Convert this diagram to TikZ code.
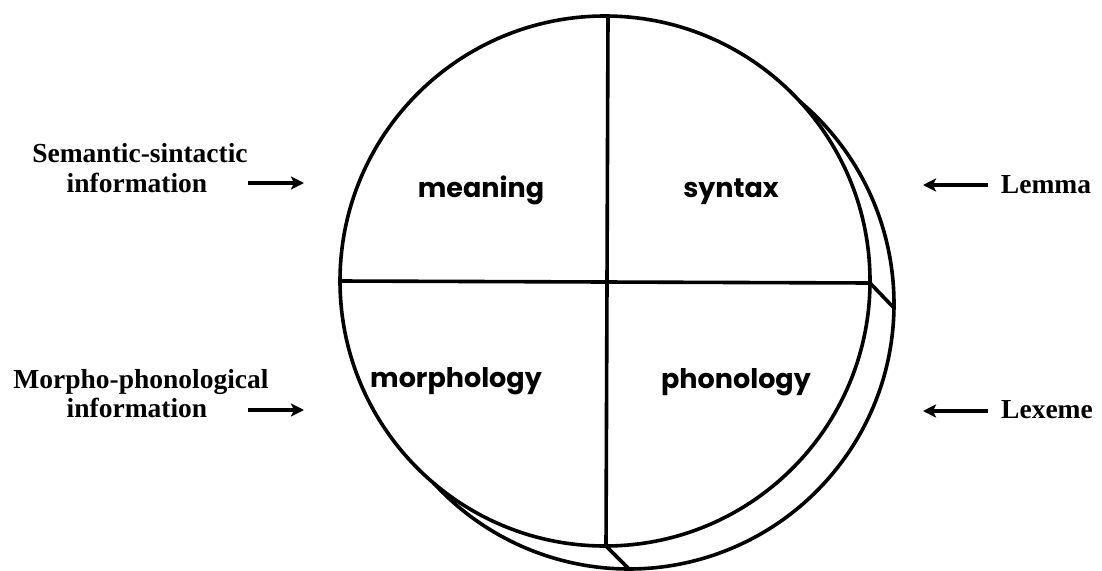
\documentclass[tikz,border=0pt]{standalone}
\usepackage{fontspec}
\setmainfont{Liberation Serif}
\newfontfamily\fieldfont{Poppins}
\usepackage{tikz}
\usetikzlibrary{positioning, arrows.meta}

\begin{document}
\begin{tikzpicture}[
    x=1pt, y=-1pt,
    >={Stealth[length=13pt, width=13pt, inset=3pt]},
    rim/.style={line width=3.6pt, line cap=round},
    feed/.style={->, line width=3.4pt},
    field/.style={anchor=base, font=\fieldfont\bfseries\fontsize{27}{32}\selectfont},
    source/.style={anchor=base, font=\bfseries\fontsize{27.5}{32}\selectfont}
]
\useasboundingbox (0,0) rectangle (1102,570);

% Main circle and the shifted rim
\coordinate (c) at (605,281);
\coordinate (c2) at (629,304);
\draw[rim] (c) circle (265);
\draw[rim] (c2) ++(-49.8:265) arc (-49.8:137.4:265);

% Quadrant dividers
\coordinate (top) at (608,16);
\coordinate (bot) at (606,546);
\coordinate (bot2) at (629,569);
\coordinate (left) at (340,281);
\coordinate (right) at (870,283);
\coordinate (right2) at (894,308);
\draw[rim] (top) -- (bot) -- (bot2);
\draw[rim] (left) -- (right) -- (right2);

% Field labels
\node[field] (meaning) at (481,197) {meaning};
\node[field] (syntax) at (731,197) {syntax};
\node[field] (morph) at (456,387) {morphology};
\node[field] (phon) at (736,388) {phonology};

% Inputs on the left
\node[source] (sem1) at (140,162) {Semantic-sintactic};
\node[source] (sem2) at (137,192) {information};
\node[source] (mor1) at (141,388) {Morpho-phonological};
\node[source] (mor2) at (137,417) {information};
\coordinate (semtail) at (248,183);
\coordinate (semtip) at (304,183);
\coordinate (mortail) at (248,410);
\coordinate (mortip) at (304,410);
\draw[feed] (semtail) -- (semtip);
\draw[feed] (mortail) -- (mortip);

% Outputs on the right
\node[source] (lemma) at (1046,193) {Lemma};
\node[source] (lexeme) at (1047,418) {Lexeme};
\coordinate (lemtail) at (988,185);
\coordinate (lemtip) at (923,185);
\coordinate (lextail) at (988,411);
\coordinate (lextip) at (923,411);
\draw[feed] (lemtail) -- (lemtip);
\draw[feed] (lextail) -- (lextip);

\end{tikzpicture}
\end{document}
